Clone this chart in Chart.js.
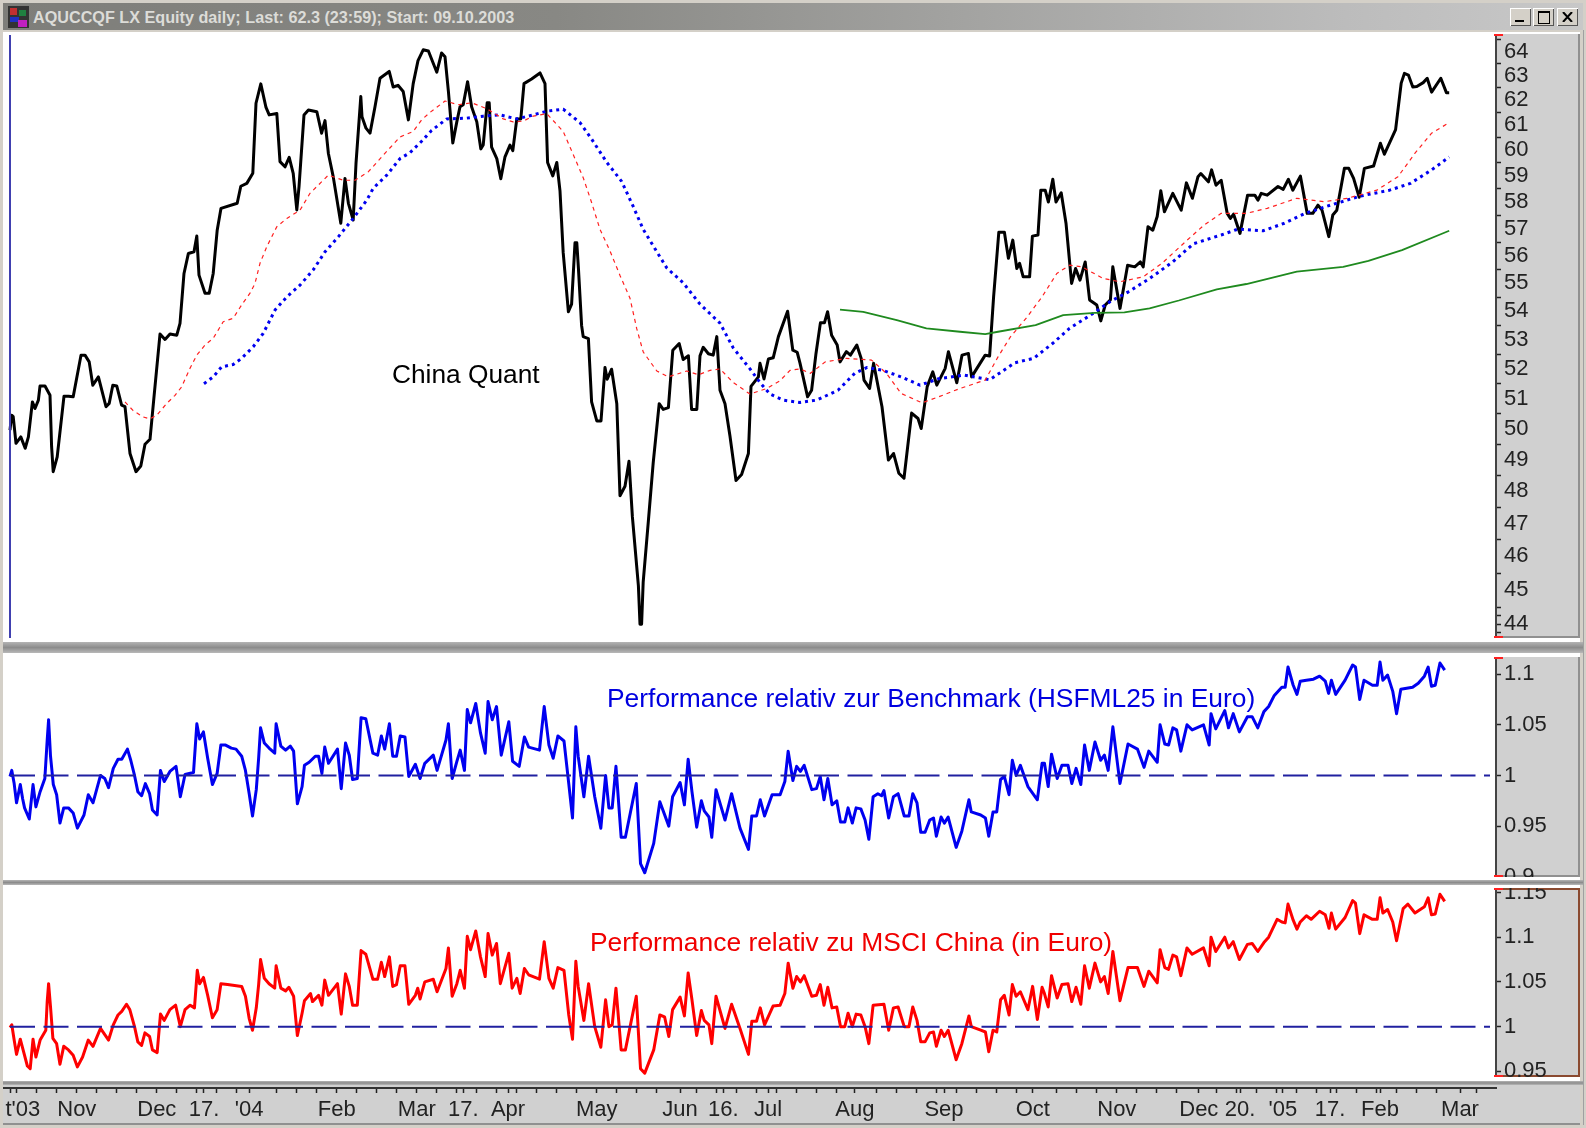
<!DOCTYPE html>
<html><head><meta charset="utf-8"><title>AQUCCQF LX Equity daily</title>
<script src="https://cdn.jsdelivr.net/npm/chart.js@4"></script>
<style>
html,body{margin:0;padding:0;background:#d4d0c8;overflow:hidden}
#win{position:relative;width:1586px;height:1128px;overflow:hidden;filter:blur(.4px)}
#win canvas{position:absolute;left:0;background:#fff}
.box{position:absolute}
.band{position:absolute;left:0;width:1583px;background:linear-gradient(#b4b4b4,#8c8c8c 50%,#b8b8b8)}
.note{position:absolute;font-family:"Liberation Sans",Arial,sans-serif;white-space:nowrap;line-height:1}
.btn{position:absolute;top:8px;width:21px;height:18px;background:#d4d0c8;box-shadow:inset 1px 1px 0 #fff,inset -1px -1px 0 #555}
</style></head><body>
<div id="win">
<div class="box" style="left:3px;top:3px;width:1580px;height:27px;background:linear-gradient(90deg,#7e7e7a 0%,#888884 35%,#bcbcbc 85%,#c8c8c8 100%)"></div>
<svg class="box" style="left:8px;top:6px" width="21" height="22"><rect width="21" height="22" fill="#333"/><rect x="2" y="2" width="7" height="7" fill="#c03030"/><rect x="11" y="4" width="7" height="6" fill="#208040"/><rect x="2" y="11" width="9" height="5" fill="#2030c0"/><rect x="10" y="14" width="9" height="7" fill="#c020c0"/></svg>
<div class="note" id="ttl" style="left:33px;top:8px;font:bold 16.2px 'Liberation Sans',Arial,sans-serif;color:#dcdcd8">AQUCCQF LX Equity daily; Last: 62.3 (23:59); Start: 09.10.2003</div>
<div class="btn" style="left:1510px"><div class="box" style="left:5px;top:12px;width:9px;height:2px;background:#000"></div></div>
<div class="btn" style="left:1533px"><div class="box" style="left:5px;top:3px;width:10px;height:10px;border:1px solid #000;border-top-width:2px;box-sizing:content-box"></div></div>
<div class="btn" style="left:1557px"><svg class="box" style="left:5px;top:4px" width="11" height="10"><path d="M1 0L10 10M10 0L1 10" stroke="#000" stroke-width="2"/></svg></div>
<div class="box" style="left:1583px;top:30px;width:1px;height:1095px;background:#a0a0a0"></div>
<div class="box" style="left:3px;top:32px;width:1577px;height:1050px;background:#fff"></div>
<div class="band" style="top:642px;height:11px"></div>
<div class="band" style="top:880px;height:5px"></div>
<div class="band" style="top:1081px;height:4px"></div>
<canvas id="c1" style="top:34px"></canvas>
<canvas id="c2" style="top:657px"></canvas>
<canvas id="c3" style="top:888px"></canvas>
<canvas id="c4" style="top:1085px"></canvas>
<div class="box" style="left:0;top:30px;width:3px;height:1098px;background:#d4d0c8"></div>
<div class="note" style="left:392px;top:361px;font-size:26.3px;color:#000">China Quant</div>
<div class="note" style="left:607px;top:685px;font-size:26.4px;color:#0000e0">Performance relativ zur Benchmark (HSFML25 in Euro)</div>
<div class="note" style="left:590px;top:929px;font-size:26.4px;color:#f00000">Performance relativ zu MSCI China (in Euro)</div>
</div>
<script>
// ---- price panel (days since start, price)
const priceDays=[0,.4,.8,1.5,2.7,3.8,4.6,5.6,6.25,7.1,7.5,8.75,10,10.4,10.8,11.8,13.5,14.6,15.8,17.75,18.75,19.8,20.7,22.1,24,24.8,25.7,26.7,27.9,28.75,30,31.5,32.7,33.75,35,36,37.5,38.75,40,41.7,42.5,43.5,44.6,46,46.7,47.25,48.75,49.8,50.8,51.8,52.75,56.8,57.7,59.2,60.7,61.5,62.7,64,64.8,66.7,67.5,68.75,69.8,70.8,71.7,72.25,73.5,74.6,76.7,77.9,78.75,79.6,80.8,82.7,83.75,84.6,85.8,86.5,87.7,88,89,90,91.25,92.5,94.8,95.8,97,
98.3,99.6,100.8,102,103.3,104.6,106.7,107.9,108.75,109.6,110.7,111.7,112.5,113.3,114.4,115.4,116.7,117.7,118.3,119.3,119.8,120.4,121.7,122.7,123.75,125,125.7,126.7,127.7,128.5,130.4,132.5,133.75,134.4,135.7,136.7,137.5,138.3,139.6,140.4,141.25,141.7,142.1,142.9,143.3,144.6,145.4,146.7,147.75,148.75,149.3,150.4,151.7,152.5,153.75,154.75,155.6,157.1,157.5,157.9,158.3,159.6,160.8,162.3,163.3,164.6,165.7,167.3,168.3,169.6,170.4,171.7,172.5,173.3,174.6,175.8,176.7,177.5,178.75,180,181.5,182.9,184.6,185.25,187.1,187.5,188.5,189.6,190.8,192.1,194.4,195.7,196.8,197.5,
199.4,200.4,201.5,202.6,203.6,204.4,205.4,206.8,207.5,209.1,210.1,211.7,212.8,213.5,214.9,215.9,218,219.6,220.9,222.2,223.5,225.4,227,227.8,229.3,230.7,231.7,233.8,234.6,236.7,238,239.6,240.4,243.8,244.9,245.9,247.2,248.6,249.6,250.7,251.7,252.4,253.3,254.9,255.6,257,257.7,258.8,259.6,260.7,261.5,262.8,264,265.4,266.4,267.5,268.8,269.9,271.7,272.7,273.8,275.1,275.7,277.5,279.4,281.2,282.6,283.3,284.5,285.7,286.8,287.7,288.6,290.7,292.8,294.1,295.6,297,297.7,299.6,300.4,301.5,302.8,304.3,305.1,305.9,307.5,309.4,311.2,312,312.8,314.3,317,318.3,319.6,320.7,322.6,324.3,325.7,327,328,329.7,330.7,331.7,333.6,334.7,335.9,337.3,338.6,340.9,342.6,343.6,346.4,347.8,348.6,349.6,350.7,351.7,353.3,354.3,355.4,357.7,359.1,359.8];
const priceValues=[49.96,50.45,50.4,49.53,49.74,49.37,49.74,50.89,50.67,50.95,51.42,51.42,51.11,49.42,48.62,49.09,51.08,51.08,51.06,52.47,52.47,52.24,51.45,51.73,50.73,50.84,51.45,51.42,50.78,50.73,49.2,48.62,48.8,49.5,49.66,51.06,53.2,53.01,53.2,53.16,53.57,55.35,56.08,56.14,56.72,55.29,54.64,54.64,55.35,56.94,57.76,57.95,58.6,58.71,59.1,61.87,62.66,61.7,61.4,61.46,59.55,59.35,59.72,59.1,57.7,58.58,61.4,61.6,61.53,60.67,61.17,59.87,58.97,57.2,58.9,57.95,57.32,59.48,62.14,61.33,60.87,60.67,61.73,62.89,63.17,62.53,62.6,
62.35,61.2,62.67,63.62,64.07,64.02,63.14,63.94,63.78,62.35,60.28,61.12,61.73,61.81,62.75,61.73,61.12,60.05,60.2,61.89,61.89,60.12,59.67,58.89,59.74,60.2,59.98,61.24,61.24,62.67,62.86,63.11,62.67,59.52,59,59.52,58.42,56.11,53.98,54.25,56.47,56.47,55.55,53.5,53.11,53.04,50.89,50.26,50.26,52.05,51.65,51.99,50.83,47.86,48.16,48.95,47.2,45.12,44,44,45.24,47.09,48.9,50.83,50.64,50.7,52.64,52.87,52.32,52.45,50.64,50.64,52.45,52.74,52.52,52.47,53.11,51.28,50.83,49.76,48.34,48.53,49.2,51.41,51.73,52.19,51.66,52.34,52.38,53.11,54,52.64,52.57,52.2,
51.06,51.28,52.53,53.59,53.59,53.98,53.16,52.82,52.24,52.59,52.47,52.82,52.36,51.62,51.34,52.19,50.73,48.99,49.2,48.57,48.41,50.52,50.34,50.01,51.4,51.9,51.45,52.02,52.59,51.53,52.47,52.53,51.73,52.47,52.44,54.51,56.86,56.86,55.9,56.57,55.53,55.72,55.23,55.23,56.72,56.76,58.45,58.45,58,58.87,58,58.35,57.2,54.99,55.53,55.11,55.77,54.4,54.22,53.66,54.22,54.4,55.59,54.1,55.65,55.59,55.77,55.59,57.07,56.94,57.45,58.43,57.63,58.33,57.69,58.73,58.14,58.97,59.09,58.77,59.23,58.64,58.83,57.57,57.38,57.54,56.82,58.26,58.26,58.07,58.33,58.26,58.59,58.48,58.87,58.45,58.99,57.57,57.57,57.88,57.69,56.7,57.51,57.69,59.29,59.29,58.9,58.18,59.29,59.38,60.27,59.84,60.81,62.69,63.09,63.02,62.53,62.55,62.71,62.89,62.32,62.89,62.3,62.3];
const maRedDays=[28.75,30.8,33.3,35,36.7,39.2,41.25,42.9,45,46.7,48.75,50.8,53.3,55.8,57.9,60,61.25,62.5,64.2,66.7,69.2,72.5,75,79.6,83.3,86.25,89.6,93.3,97.5,100.8,102.9,105,108.75,112.1,115.4,119.2,123.3,125.8,128.3,130.8,134.2,138.3,140.8,143.3,145.4,147.5,150,152.5,155,156.7,158.3,161.7,164.6,169.2,172.1,175,177.5,180.8,185,189.2,192.5,195,197.5,200.1,203.8,209.1,215.4,219.1,222.8,228,232.2,237.5,243.8,247,250.1,254.3,258,261.7,264.9,268,273.3,277.5,283.3,288,294.3,298.5,302.8,309.1,314.3,321.7,328.6,334.3,341.7,347,351.2,355.4,359.8];
const maRedValues=[50.89,50.6,50.39,50.33,50.45,50.84,51.11,51.39,52.02,52.47,52.82,53.05,53.63,53.75,54.22,54.64,54.99,55.72,56.33,57.07,57.38,57.69,58.33,59.03,58.83,58.83,59.16,59.8,60.52,60.74,61.2,61.5,61.96,61.81,61.89,61.65,61.24,61.12,61.15,61.35,61.45,60.74,59.83,58.93,57.98,56.97,56.17,55.28,54.46,53.38,52.58,51.93,51.73,51.93,51.8,51.95,52,51.54,51.15,51.34,51.6,51.95,52,51.85,52.24,52.36,52.3,51.85,51.17,50.86,51.06,51.34,51.62,52.41,53.1,53.8,54.51,55.35,55.65,55.59,55.17,55.05,55.23,55.72,56.57,57.13,57.57,57.57,57.76,58.14,58.01,58.14,58.45,58.97,59.87,60.67,61.09];
const maBlueDays=[48.5,50.8,52.9,55.8,57.9,60.8,63.3,66.25,69.2,72.5,75.8,78.75,82.1,85.8,89.2,90.8,94.2,97.5,100,102.9,105.4,109.2,114.2,118.3,122.5,126.7,130.8,134.2,138.3,142.5,145.4,149.2,152.9,155.8,158.3,161.25,164.2,168.3,172.5,177.5,180.8,185,187.5,190,193.3,197.5,201.7,207,211.2,214.3,218,222.8,227.5,232.2,238.5,244.9,251.2,255.9,260.7,264.9,270.1,274.9,279.6,284.9,290.7,295.9,302.8,307,313.3,318.6,323.8,330.1,337.5,344.9,350.1,355.4,359.8];
const maBlueValues=[51.5,51.73,52.07,52.15,52.36,52.76,53.22,54.04,54.51,54.93,55.48,56.14,56.7,57.38,58.07,58.52,59.03,59.67,59.9,60.35,60.78,61.24,61.27,61.35,61.4,61.24,61.4,61.55,61.63,61.09,60.44,59.52,58.79,57.83,56.97,56.25,55.55,55.01,54.25,53.58,52.72,52,51.54,51.15,50.95,50.87,50.95,51.28,51.85,52.05,51.96,51.73,51.45,51.67,51.79,51.63,52.21,52.36,52.88,53.4,53.86,54.33,54.69,55.17,55.77,56.44,56.76,56.98,56.92,57.2,57.57,57.88,58.22,58.45,58.71,59.23,59.73];
const maGreenDays=[207.5,213.3,221.7,229.1,237.5,243.8,247,256.4,263.3,271.2,278.6,284.9,292.2,301.7,309.1,321.7,333.3,339.6,348,359.8];
const maGreenValues=[54.06,53.98,53.69,53.4,53.28,53.2,53.28,53.51,53.86,53.94,53.96,54.1,54.38,54.78,54.97,55.42,55.59,55.81,56.2,56.92];
// ---- relative to benchmark
const benchDays=[0,.45,1.04,1.63,2.57,3.16,3.64,4.82,5.76,6.47,7.53,8.71,9.3,9.65,10.13,10.83,11.66,12.49,13.43,14.61,15.79,16.85,18.5,19.57,20.75,22.63,23.7,24.64,25.82,27,27.94,29.36,30.19,31.13,31.96,32.9,33.84,34.9,35.61,36.79,37.62,38.56,39.98,41.51,42.58,43.76,45.88,46.71,47.41,48.36,49.42,50.6,51.78,52.72,53.9,55.32,56.5,57.92,58.86,59.8,60.63,61.57,62.16,62.64,63.58,64.76,66.18,66.53,67.71,68.9,70.07,70.9,71.84,73.02,73.61,74.79,76.32,77.15,77.98,78.68,79.63,81.87,82.81,83.88,84.82,85.64,86.83,87.77,88.95,90.72,91.9,92.84,93.67,94.85,95.68,96.62,97.56,98.74,99.69,101.34,102.52,103.7,105.82,106.77,109,109.6,110.54,111.72,112.55,113.61,114.32,115.14,116.44,117.62,118.8,119.51,120.57,121.63,122.81,124.7,125.65,127.3,128.6,129.66,132.37,133.55,134.73,135.8,136.97,138.5,139.69,140.63,141.46,142.05,143.47,144.65,146.18,147.71,148.9,149.72,150.55,151.49,152.79,153.85,156.57,157.63,158.69,160.93,162.46,164.7,165.65,167.53,168.6,169.54,170.49,171.67,172.85,173.56,174.74,175.44,176.5,178.75,180.4,182.5,
184.62,185.45,186.63,187.57,188.64,190.52,192.53,193.71,194.54,195.72,196.66,197.6,198.55,200.44,201.62,202.56,203.5,204.45,205.51,206.69,207.63,208.7,209.52,210.58,211.53,212.71,213.77,214.71,215.78,216.96,217.9,218.49,219.67,220.85,222.03,223.56,224.74,225.69,226.75,227.69,228.76,229.94,230.88,231.59,232.77,233.59,234.54,236.54,237.96,239.73,240.32,242.68,243.86,244.69,245.75,246.69,247.64,248.58,249.76,250.59,251.53,252.59,254.48,256.84,258.02,258.61,259.55,260.38,261.8,262.98,264.51,265.45,266.52,267.7,268.64,269.82,271.24,272.65,273.6,274.54,275.72,277.49,279.5,281.86,283.51,284.69,286.81,287.52,288.7,289.64,290.71,291.65,292.71,294.25,295.54,298.38,299.79,300.26,301.44,303.69,304.63,305.81,307.34,309.35,310.53,311.95,313.48,314.66,316.08,317.96,318.79,319.5,320.8,321.74,322.57,324.1,325.87,327.4,328.82,329.65,330.35,331.42,333.78,335.66,336.37,337.43,338.5,340.62,341.8,342.51,343.22,344.4,345.69,346.64,347.7,350.65,352.07,353.6,354.54,355.37,356.31,357.49,358.67];
const benchValues=[.999,1.005,.992,.973,.991,.977,.968,.957,.991,.969,.984,.997,1.035,1.055,1.019,.991,.981,.953,.968,.968,.963,.948,.961,.981,.973,1,.997,.988,1.007,1.016,1.016,1.026,1.015,1,.984,.98,.992,.982,.966,.961,1.005,.994,1.004,1.009,.979,1.001,1.003,1.051,1.036,1.043,1.017,.991,1.002,1.03,1.03,1.027,1.026,1.019,1.005,.982,.96,.986,1.017,1.047,1.032,1.027,1.022,1.051,1.029,1.025,1.029,1.024,.972,.989,1.01,1.013,1.019,1.019,1.002,1.028,1.012,1.026,.987,1.032,1.02,.996,.997,1.057,1.056,1.022,1.02,1.039,1.026,1.051,1.019,1.019,1.039,1.038,.999,1.011,.997,1.012,1.02,1.005,1.035,1.051,.997,1.014,1.025,1.005,1.065,1.052,1.071,1.042,1.022,1.073,1.055,1.068,1.02,1.053,1.014,1.009,1.038,1.028,1.025,1.068,1.03,1.017,1.039,1.034,.992,.958,1.048,1.019,.979,1.019,.979,.948,1,.968,.968,1.009,.939,.939,.992,.913,.904,.933,.974,.95,.979,.993,.971,1.016,.984,.949,.975,.965,.959,.939,.986,.956,.982,.948,
.927,.96,.96,.976,.96,.981,.981,.994,1.024,.995,1.009,1.004,1.01,.986,.987,.999,.976,.997,.971,.975,.954,.954,.968,.953,.968,.967,.956,.937,.979,.982,.98,.985,.958,.979,.982,.96,.96,.982,.973,.944,.944,.956,.958,.94,.959,.953,.959,.929,.945,.976,.964,.961,.958,.94,.964,.964,.996,.999,.981,1.015,1,1.01,.989,.976,1.012,1.012,.989,1.021,.997,1.01,1.01,.992,1.007,.991,1.03,1.005,1.033,1.015,1.02,1.005,1.048,.992,1.031,1.026,1.008,1.024,1.013,1.05,1.031,1.03,1.047,1.045,1.024,1.05,1.045,1.05,1.03,1.061,1.046,1.064,1.047,1.061,1.043,1.058,1.058,1.047,1.063,1.068,1.079,1.087,1.087,1.107,1.089,1.08,1.093,1.094,1.095,1.098,1.093,1.081,1.094,1.08,1.094,1.109,1.107,1.075,1.094,1.089,1.089,1.112,1.094,1.099,1.083,1.061,1.085,1.087,1.091,1.098,1.107,1.088,1.089,1.111,1.104];
// ---- relative to MSCI China
const msciDays=[0,.45,1.04,1.63,2.57,3.16,4.34,5.05,5.76,6.47,7.53,8.95,9.3,9.65,10.13,10.72,11.66,12.49,13.43,14.61,15.79,16.85,18.15,19.57,20.75,22.63,23.7,24.64,25.82,27,27.94,29.12,29.95,31.13,31.96,32.9,33.73,34.9,35.61,36.79,37.62,38.56,39.98,41.4,42.58,43.76,45.05,46.12,46.82,47.41,48.36,49.42,50.6,51.78,52.72,54.38,57.92,58.86,59.8,60.63,61.57,62.16,62.64,63.58,64.76,66.18,66.53,67.71,68.9,69.72,70.9,71.84,73.02,73.61,75.14,75.62,77.15,77.98,78.68,79.63,81.87,82.81,83.88,84.82,85.64,86.83,87.77,88.95,90.72,91.9,92.84,93.67,94.85,95.68,96.62,97.56,98.74,99.69,101.34,101.93,102.52,103.7,105.82,106.77,109,109.6,110.54,111.72,112.55,113.61,114.32,115.14,116.44,117.62,118.8,119.51,120.57,121.63,122.58,124.7,125.53,126.71,127.54,128.6,129.66,132.37,133.55,134.73,135.8,136.97,138.5,139.69,140.63,141.46,142.05,143.47,144.65,146.18,147.71,148.9,149.72,150.55,151.49,152.79,153.85,156.57,157.63,158.69,160.93,162.46,163.64,164.7,165.65,167.53,168.6,169.54,170.49,171.67,172.85,173.56,174.74,175.44,176.5,178.75,180.4,182.5,
184.62,185.45,186.63,187.57,188.64,190.76,192.53,193.71,194.54,195.72,196.66,197.6,198.55,200.44,201.62,202.56,203.5,204.45,205.51,206.69,207.63,208.7,209.52,210.58,211.53,212.71,213.77,214.71,215.78,218.49,219.67,220.85,222.03,223.56,224.74,225.69,226.75,227.69,228.76,229.94,230.88,231.59,232.77,233.59,234.54,236.54,237.96,239.73,240.32,242.68,243.86,244.69,245.75,246.69,247.64,248.58,249.76,250.59,251.53,252.59,254.48,255.66,256.84,258.02,258.61,259.55,260.38,261.8,262.98,264.51,265.45,266.52,267.7,268.64,269.82,271.24,272.65,273.6,274.54,275.72,277.49,279.5,281.86,283.51,284.69,286.81,287.52,288.7,289.64,290.71,291.65,292.71,294.25,295.54,298.38,299.79,300.26,301.44,303.69,304.63,305.81,307.34,309.35,310.53,311.95,313.48,314.66,316.78,317.96,318.79,319.5,320.8,321.74,322.57,324.1,325.28,327.4,328.82,329.76,330.35,331.42,333.78,335.66,336.37,337.43,338.5,340.62,341.8,342.51,343.22,344.4,345.69,346.64,348.29,349.47,351.24,353.6,354.54,355.37,356.31,357.49,358.67];
const msciValues=[.999,1.002,.985,.969,.986,.976,.956,.953,.986,.966,.985,.996,1.028,1.048,1.022,.987,.981,.958,.978,.974,.968,.955,.966,.985,.978,.998,.991,.985,1.002,1.013,1.017,1.025,1.019,1,.983,.979,.993,.989,.974,.971,1.014,1.007,1.019,1.024,1,1.019,1.024,1.021,1.063,1.048,1.055,1.035,1.01,1.019,1.048,1.047,1.045,1.034,1.009,.996,1.021,1.047,1.075,1.054,1.048,1.043,1.068,1.043,1.04,1.044,1.034,.99,1.015,1.029,1.037,1.028,1.035,1.024,1.052,1.035,1.048,1.014,1.059,1.045,1.024,1.024,1.085,1.081,1.053,1.053,1.072,1.056,1.078,1.045,1.047,1.068,1.068,1.025,1.035,1.043,1.031,1.05,1.053,1.039,1.065,1.088,1.034,1.048,1.063,1.043,1.101,1.086,1.107,1.078,1.056,1.104,1.08,1.093,1.048,1.082,1.043,1.054,1.037,1.065,1.058,1.053,1.095,1.054,1.043,1.066,1.063,1.013,.986,1.073,1.045,1.007,1.048,1,.977,1.03,1,1.002,1.043,.974,.974,1.034,.953,.948,.974,1.013,1.011,.989,1.019,1.033,1.012,1.06,1.03,.99,1.018,1.007,1.002,.981,1.034,.998,1.025,.998,
.969,1.006,1.006,1.021,1.002,1.023,1.024,1.037,1.071,1.043,1.056,1.05,1.057,1.034,1.035,1.047,1.024,1.044,1.021,1.022,1,1,1.015,1,1.014,1.013,1,.981,1.024,1.025,.996,1.021,1.022,1,1,1.022,1.007,.983,.983,.993,.994,.978,.996,.989,.996,.963,.981,1.012,1,.996,.994,.972,.996,.994,1.03,1.035,1.013,1.047,1.034,1.039,1.019,1.045,1.008,1.044,1.037,1.022,1.057,1.032,1.047,1.048,1.028,1.044,1.025,1.068,1.043,1.071,1.05,1.056,1.037,1.084,1.029,1.066,1.066,1.045,1.062,1.049,1.086,1.066,1.064,1.08,1.078,1.057,1.088,1.081,1.088,1.068,1.1,1.084,1.1,1.088,1.095,1.075,1.092,1.093,1.084,1.094,1.1,1.12,1.117,1.116,1.137,1.119,1.109,1.117,1.124,1.12,1.129,1.125,1.11,1.127,1.109,1.122,1.141,1.138,1.104,1.125,1.12,1.12,1.144,1.127,1.131,1.117,1.096,1.132,1.137,1.127,1.134,1.144,1.125,1.126,1.148,1.14];
const refDays=[0,370];
const refValues=[1,1];
// ---- axes
const priceLabels=[44,45,46,47,48,49,50,51,52,53,54,55,56,57,58,59,60,61,62,63,64];
const priceMinorTicks=[43.75,44.25,44.5,45.5,46.5,47.5,48.5,49.5,50.5,51.5,52.5,53.5,54.5,55.5,56.5,57.5,58.5,59.5,60.5,61.5,62.5,63.5,64.5];
const benchLabels=[.9,.95,1,1.05,1.1];
const msciLabels=[.95,1,1.05,1.1,1.15];
const xTickLabels=["t'03","Nov","Dec","17.","'04","Feb","Mar","17.","Apr","May","Jun","16.","Jul","Aug","Sep","Oct","Nov","Dec","20.","'05","17.","Feb","Mar"];
const xTickDays=[3.2,16.7,36.7,48.5,59.8,81.7,101.7,113.3,124.5,146.7,167.5,178.3,189.5,211.2,233.5,255.7,276.7,297.2,307.5,318.2,330,342.5,362.5];
const xPlainTicks=[0,1.7,6.7,11.7,21.7,26.7,31.7,41.7,46.7,51.7,56.7,66.7,71.7,76.7,86.7,91.7,96.7,106.7,111.7,116.7,121.7,126.7,131.7,136.7,141.7,151.7,156.7,161.7,171.7,176.7,181.7,186.7,191.7,196.7,201.7,206.7,216.7,221.7,226.7,231.7,236.7,241.7,246.7,251.7,261.7,266.7,271.7,281.7,286.7,291.7,301.7,306.7,311.7,316.7,321.7,326.7,331.7,336.7,341.7,346.7,351.7,356.7,366.7];
const xMin=-2.5,xMax=371.5;
const pairs=(xs,ys)=>xs.map((x,i)=>({x,y:ys[i]}));
const tickFont={family:'"Liberation Sans",Arial,sans-serif',size:22};
const GRAY='#d0d0d0';

function panelPlugin(opts){return{id:'panel',
  beforeDraw(c){const a=c.chartArea,g=c.ctx;g.save();g.fillStyle=GRAY;g.fillRect(a.right,0,c.width-a.right,c.height);
    g.strokeStyle=opts.frame;g.lineWidth=2;
    if(opts.full){g.strokeRect(a.right,1,c.width-a.right-1,c.height-2);}
    else{g.beginPath();g.moveTo(c.width-1,0);g.lineTo(c.width-1,c.height-1);g.lineTo(a.right,c.height-1);g.stroke();}
    g.restore();},
  afterDraw(c){const a=c.chartArea,g=c.ctx;g.save();g.fillStyle='#ff2020';g.fillRect(a.right-2,0,9,2);g.fillRect(a.right-2,c.height-2,9,2);g.restore();
    if(opts.edge){g.save();g.fillStyle=opts.edge;g.fillRect(9,1,2,c.height-1);g.restore();}}
};}
function makePanel(id,h,datasets,yOpts,plug){
  const cv=document.getElementById(id);cv.width=1580;cv.height=h;cv.style.width='1580px';cv.style.height=h+'px';
  return new Chart(cv,{type:'line',data:{datasets},plugins:[panelPlugin(plug)],options:{
    responsive:false,animation:false,maintainAspectRatio:false,
    layout:{padding:0},
    parsing:{xAxisKey:'x',yAxisKey:'y'},
    elements:{point:{radius:0},line:{tension:0,borderJoinStyle:'round',borderCapStyle:'butt'}},
    plugins:{legend:{display:false},tooltip:{enabled:false},title:{display:false}},
    scales:{
      x:{type:'linear',display:false,min:xMin,max:xMax},
      y:Object.assign({position:'right',bounds:'data',
        border:{display:true,color:'#444',width:2},
        afterFit(s){s.width=84;s.paddingTop=0;s.paddingBottom=0;},
        ticks:{color:'#222',font:tickFont,padding:3,autoSkip:false,maxRotation:0,major:{enabled:false},callback:yOpts.cb},
        grid:{drawOnChartArea:false,drawTicks:true,tickLength:5,tickWidth:1.5,tickColor:yOpts.tickColor||'#222'}
      },yOpts.scale)
    }}});
}
const lineDs=(xs,ys,color,w,dash)=>({data:pairs(xs,ys),borderColor:color,borderWidth:w,borderDash:dash||[],fill:false,pointRadius:0});

makePanel('c1',604,[
  lineDs(maGreenDays,maGreenValues,'#1f8a1f',1.8),
  lineDs(maRedDays,maRedValues,'#ff2020',1.2,[4,4]),
  lineDs(maBlueDays,maBlueValues,'#0000f0',3,[3,4]),
  lineDs(priceDays,priceValues,'#000',3)
],{scale:{type:'logarithmic',min:43.607,max:64.737,afterBuildTicks(s){s.ticks=priceLabels.concat(priceMinorTicks).sort((a,b)=>a-b).map(value=>({value}));}},
  cb:v=>Number.isInteger(v)?String(v):'',
  tickColor:t=>(Number.isInteger(t.tick.value)&&t.tick.value!==44)?'rgba(0,0,0,0)':'#222'},
  {frame:'#909090',edge:'#4040b0'});

makePanel('c2',220,[
  lineDs(refDays,refValues,'#2020a0',2,[25,8.5]),
  lineDs(benchDays,benchValues,'#0000f0',3)
],{scale:{type:'linear',min:.8998,max:1.1169,afterBuildTicks(s){s.ticks=benchLabels.map(value=>({value}));}},cb:v=>String(v)},{frame:'#909090'});

makePanel('c3',189,[
  lineDs(refDays,refValues,'#2020a0',2,[25,8.5]),
  lineDs(msciDays,msciValues,'#ff0000',3)
],{scale:{type:'linear',min:.9437,max:1.155,afterBuildTicks(s){s.ticks=msciLabels.map(value=>({value}));}},cb:v=>String(v)},{frame:'#8a4a30',full:true});

// time axis
(function(){
  const cv=document.getElementById('c4');cv.width=1580;cv.height=40;cv.style.width='1580px';cv.style.height='40px';
  const map=new Map(xTickDays.map((d,i)=>[d,xTickLabels[i]]));
  new Chart(cv,{type:'line',data:{datasets:[{data:[]}]},
    plugins:[{id:'bg',beforeDraw(c){const g=c.ctx;g.save();g.fillStyle=GRAY;g.fillRect(0,0,c.width,c.height);g.fillStyle='#909090';g.fillRect(0,c.height-2,c.width,2);g.restore();}}],
    options:{responsive:false,animation:false,maintainAspectRatio:false,layout:{padding:{left:0,right:84,top:0,bottom:0}},
    plugins:{legend:{display:false},tooltip:{enabled:false}},
    scales:{
      y:{display:false},
      x:{type:'linear',min:xMin,max:xMax,bounds:'data',position:'bottom',
        afterFit(s){s.height=37;s.paddingLeft=0;s.paddingRight=0;},
        afterBuildTicks(s){s.ticks=xPlainTicks.concat(xTickDays).sort((a,b)=>a-b).map(value=>({value}));},
        border:{display:true,color:'#333',width:2},
        ticks:{color:'#222',font:tickFont,padding:4,autoSkip:false,maxRotation:0,minRotation:0,major:{enabled:false},
          callback:v=>map.has(v)?map.get(v):''},
        grid:{drawOnChartArea:false,drawTicks:true,tickLength:5,tickWidth:1.5,
          tickColor:t=>t.tick&&t.tick.value===xTickDays[0]?'rgba(0,0,0,0)':'#222'}
      }}}});
})();
</script>
</body></html>
